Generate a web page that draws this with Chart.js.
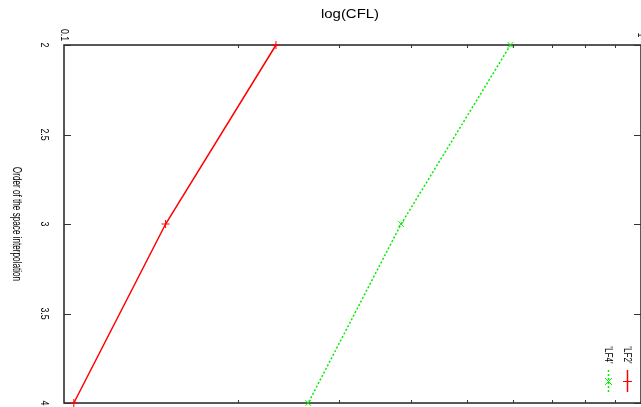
<!DOCTYPE html>
<html>
<head>
<meta charset="utf-8">
<script src="https://cdn.jsdelivr.net/npm/chart.js@4/dist/chart.umd.min.js"></script>
<style>
html,body{margin:0;padding:0;background:#fff;overflow:hidden;width:641px;height:407px;}
#c{display:block;}
</style>
</head>
<body>
<canvas id="c" width="641" height="407"></canvas>
<script>
// Data read from the (rotated gnuplot) picture
const orders = [2, 3, 4];                 // Order of the space interpolation
const lf2 = [0.233, 0.150, 0.104];        // log(CFL) for 'LF2'
const lf4 = [0.594, 0.384, 0.265];        // log(CFL) for 'LF4'
const seriesNames = ["'LF2'", "'LF4'"];
const seriesColors = ['#ff0000', '#00ee00'];
const yTickValues = [2, 2.5, 3, 3.5, 4];
const yTickLabels = ["2", "2.5", "3", "3.5", "4"];
const xMajorTicks = [0.1, 1];
const xMajorLabels = ["0.1", "1"];
const xMinorTicks = [0.2, 0.3, 0.4, 0.5, 0.6, 0.7, 0.8, 0.9];
const xTitle = "log(CFL)";
const yTitle = "Order of the space interpolation";

const FONT = '"Liberation Sans", Arial, sans-serif';

function rotText(ctx, txt, x, y, size, squeeze) {
  ctx.save();
  ctx.translate(x, y);
  ctx.rotate(Math.PI / 2);
  ctx.scale(squeeze, 1);
  ctx.font = size + 'px ' + FONT;
  ctx.textAlign = 'center';
  ctx.textBaseline = 'middle';
  ctx.fillStyle = '#000';
  ctx.fillText(txt, 0, 0);
  ctx.restore();
}

const gnuplotFrame = {
  id: 'gnuplotFrame',
  beforeDatasetsDraw(chart) {
    const ctx = chart.ctx, a = chart.chartArea;
    const xs = chart.scales.x, ys = chart.scales.y;
    ctx.save();
    ctx.strokeStyle = '#222';
    ctx.lineWidth = 1.5;
    ctx.strokeRect(a.left, a.top, a.right - a.left, a.bottom - a.top);
    ctx.lineWidth = 1;
    ctx.strokeStyle = '#333';
    yTickValues.forEach(v => {
      const py = Math.round(ys.getPixelForValue(v)) + 0.5;
      ctx.beginPath();
      ctx.moveTo(a.left, py); ctx.lineTo(a.left + 7, py);
      ctx.moveTo(a.right, py); ctx.lineTo(a.right - 7, py);
      ctx.stroke();
    });
    xMinorTicks.forEach(v => {
      const px = Math.round(xs.getPixelForValue(v)) + 0.5;
      ctx.beginPath();
      ctx.moveTo(px, a.top); ctx.lineTo(px, a.top + 3);
      ctx.moveTo(px, a.bottom); ctx.lineTo(px, a.bottom - 3);
      ctx.stroke();
    });
    ctx.restore();
  },
  afterDraw(chart) {
    const ctx = chart.ctx;
    const xs = chart.scales.x, ys = chart.scales.y;
    yTickValues.forEach((v, i) => {
      rotText(ctx, yTickLabels[i], 44, ys.getPixelForValue(v), 11, 0.8);
    });
    xMajorTicks.forEach((v, i) => {
      rotText(ctx, xMajorLabels[i], xs.getPixelForValue(v), 35, 11, 0.8);
    });
    rotText(ctx, yTitle, 16, 224, 12, 0.68);
    ctx.save();
    ctx.translate(350, 14);
    ctx.scale(1.15, 1);
    ctx.font = '13px ' + FONT;
    ctx.textAlign = 'center';
    ctx.textBaseline = 'middle';
    ctx.fillStyle = '#000';
    ctx.fillText(xTitle, 0, 0);
    ctx.restore();
    // legend (rotated)
    const keyX = [627, 608];
    const dashes = [[], [2, 2]];
    seriesNames.forEach((name, i) => {
      const kx = keyX[i];
      rotText(ctx, name, kx, 355, 11, 0.75);
      ctx.save();
      ctx.strokeStyle = seriesColors[i];
      ctx.lineWidth = 1.5;
      ctx.setLineDash(dashes[i]);
      ctx.beginPath();
      ctx.moveTo(kx + 0.5, 370); ctx.lineTo(kx + 0.5, 392);
      ctx.stroke();
      ctx.setLineDash([]);
      ctx.lineWidth = 1;
      ctx.beginPath();
      if (i === 0) {
        ctx.moveTo(kx - 4, 381.5); ctx.lineTo(kx + 5, 381.5);
      } else {
        ctx.moveTo(kx - 3, 378); ctx.lineTo(kx + 4, 385);
        ctx.moveTo(kx - 3, 385); ctx.lineTo(kx + 4, 378);
      }
      ctx.stroke();
      ctx.restore();
    });
  }
};

new Chart(document.getElementById('c'), {
  type: 'scatter',
  data: {
    datasets: [
      {
        label: seriesNames[0],
        data: orders.map((o, i) => ({x: lf2[i], y: o})),
        showLine: true,
        borderColor: seriesColors[0],
        backgroundColor: seriesColors[0],
        pointBorderColor: seriesColors[0],
        pointBackgroundColor: seriesColors[0],
        borderWidth: 1.5,
        pointStyle: 'cross',
        pointRadius: 4,
        pointBorderWidth: 1,
        clip: false
      },
      {
        label: seriesNames[1],
        data: orders.map((o, i) => ({x: lf4[i], y: o})),
        showLine: true,
        borderColor: seriesColors[1],
        backgroundColor: seriesColors[1],
        pointBorderColor: seriesColors[1],
        pointBackgroundColor: seriesColors[1],
        borderWidth: 1.5,
        borderDash: [2, 2],
        pointStyle: 'crossRot',
        pointRadius: 4,
        pointBorderWidth: 1,
        clip: false
      }
    ]
  },
  options: {
    responsive: false,
    animation: false,
    devicePixelRatio: 1,
    layout: {autoPadding: false, padding: {left: 64, top: 45, right: -3, bottom: 4}},
    plugins: {legend: {display: false}, tooltip: {enabled: false}},
    scales: {
      x: {type: 'logarithmic', min: 0.1, max: 1, display: false},
      y: {type: 'linear', min: 2, max: 4, reverse: true, display: false}
    }
  },
  plugins: [gnuplotFrame]
});
</script>
</body>
</html>
